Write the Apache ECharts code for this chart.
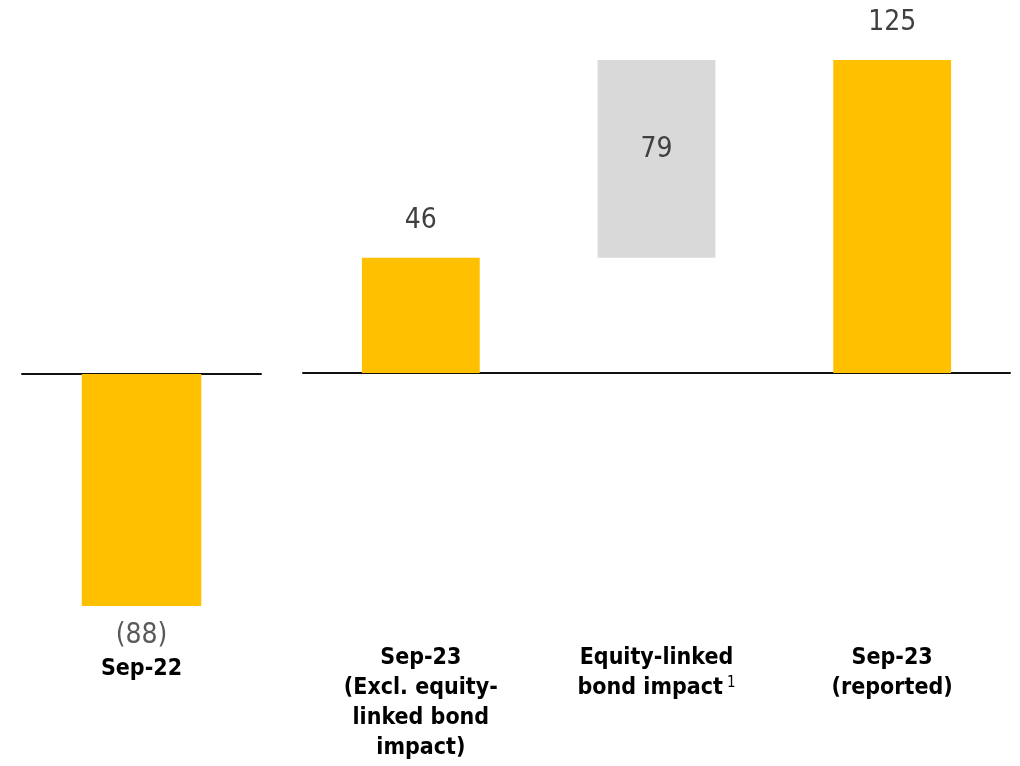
<!DOCTYPE html>
<html>
<head>
<meta charset="utf-8">
<script src="https://cdn.jsdelivr.net/npm/echarts@6/dist/echarts.min.js"></script>
<style>html,body{margin:0;padding:0;background:#fff;}#c{width:1020px;height:766px;}</style>
</head>
<body>
<div id="c"></div>
<script>
var leftCategories = ['Sep-22'];
var leftValues = [-88];
var rightCategories = ['Sep-23\n(Excl. equity-\nlinked bond\nimpact)', 'Equity-linked\nbond impact{sup|1}', 'Sep-23\n(reported)'];
var rightValues = [46, 79, 125];
var rightKinds = ['total', 'delta', 'total'];

var FONT = "'DejaVu Sans Condensed', 'DejaVu Sans', sans-serif";
var YELLOW = '#FFC000', GREY = '#D9D9D9';

function fmt(v) { return v < 0 ? '(' + Math.abs(v) + ')' : String(v); }

var base = rightValues.map(function (v, i) { return rightKinds[i] === 'delta' ? rightValues[i - 1] : '-'; });
var rightData = rightValues.map(function (v, i) {
  var d = rightKinds[i] === 'delta';
  return {
    value: v,
    itemStyle: { color: d ? GREY : YELLOW },
    label: d ? { position: 'inside', offset: [0, -9] } : { position: 'top', distance: 23 }
  };
});

var axisLineStyle = { show: true, onZero: true, lineStyle: { color: '#111', width: 2 } };
var catLabel = { color: '#000', fontFamily: FONT, fontWeight: 'bold', fontSize: 23, lineHeight: 30,
  rich: { sup: { fontFamily: FONT, fontSize: 15, fontWeight: 'normal', color: '#000', padding: [0, 0, 10, 4] } } };

var chart = echarts.init(document.getElementById('c'));
chart.setOption({
  animation: false,
  grid: [
    { left: 22, width: 239, top: 374, height: 232 },
    { left: 303, width: 707, top: 60, height: 313 }
  ],
  xAxis: [
    { type: 'category', gridIndex: 0, data: leftCategories, position: 'top', axisLine: axisLineStyle, axisTick: { show: false }, axisLabel: { show: false } },
    { type: 'category', gridIndex: 0, data: leftCategories, position: 'bottom', axisLine: { show: false, onZero: false }, axisTick: { show: false },
      axisLabel: Object.assign({ margin: 48 }, catLabel) },
    { type: 'category', gridIndex: 1, data: rightCategories, axisLine: axisLineStyle, axisTick: { show: false },
      axisLabel: Object.assign({ margin: 270, interval: 0 }, catLabel) }
  ],
  yAxis: [
    { type: 'value', gridIndex: 0, min: -88, max: 0, show: false, splitLine: { show: false } },
    { type: 'value', gridIndex: 1, min: 0, max: 125, show: false, splitLine: { show: false } }
  ],
  series: [
    { type: 'bar', xAxisIndex: 0, yAxisIndex: 0, data: leftValues, barWidth: '50%',
      itemStyle: { color: YELLOW },
      label: { show: true, position: 'bottom', distance: 16, color: '#595959', fontFamily: FONT, fontSize: 28,
        formatter: function (p) { return fmt(p.value); } } },
    { type: 'bar', xAxisIndex: 2, yAxisIndex: 1, stack: 'w', data: base, barWidth: '50%',
      itemStyle: { color: 'rgba(0,0,0,0)' }, silent: true },
    { type: 'bar', xAxisIndex: 2, yAxisIndex: 1, stack: 'w', data: rightData, barWidth: '50%',
      label: { show: true, color: '#404040', fontFamily: FONT, fontSize: 28,
        formatter: function (p) { return fmt(p.value); } } }
  ]
});
</script>
</body>
</html>
